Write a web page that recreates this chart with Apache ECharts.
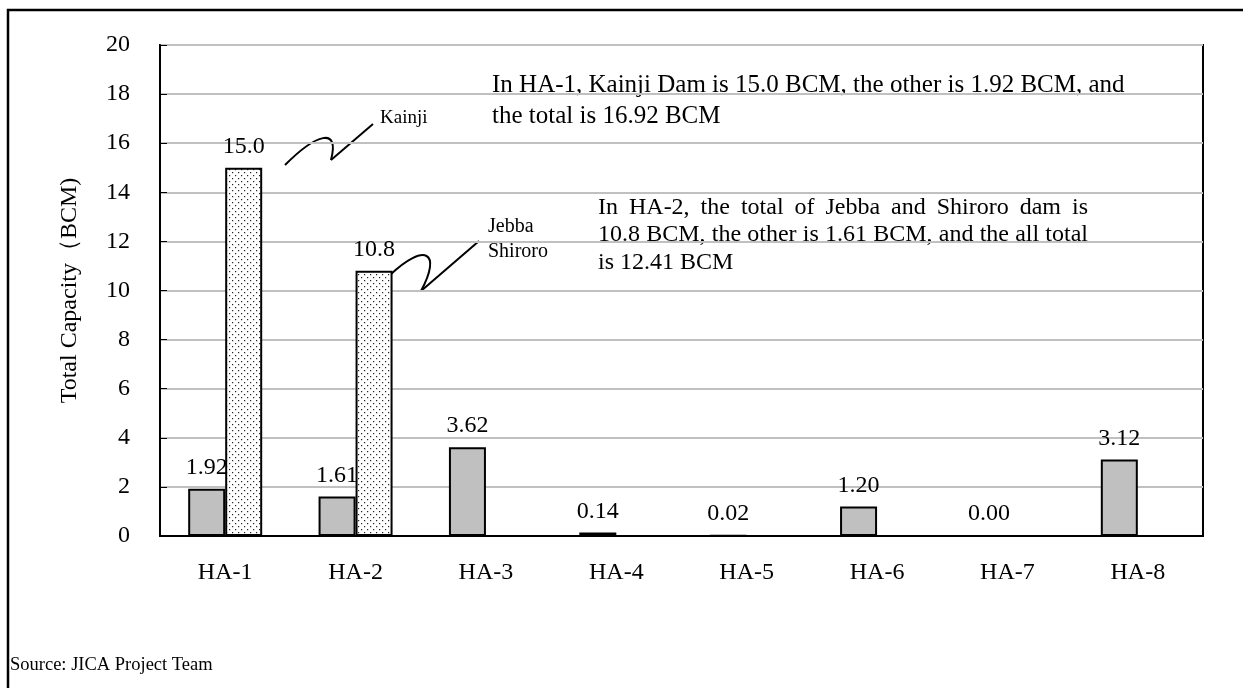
<!DOCTYPE html>
<html><head><meta charset="utf-8">
<script src="https://cdn.jsdelivr.net/npm/echarts@6/dist/echarts.min.js"></script>
<style>html,body{margin:0;padding:0;background:#fff}#c{width:1243px;height:688px}</style>
</head><body><div id="c"></div>
<script>
const categories = ['HA-1','HA-2','HA-3','HA-4','HA-5','HA-6','HA-7','HA-8'];
const otherValues = [1.92, 1.61, 3.62, 0.14, 0.02, 1.20, 0.00, 3.12];
const majorDamValues = [15.0, 10.8, null, null, null, null, null, null];
const yTicks = {min: 0, max: 20, interval: 2};
const yTitle = 'Total Capacity（BCM)';
const note1 = ['In HA-1, Kainji Dam is 15.0 BCM, the other is 1.92 BCM, and', 'the total is 16.92 BCM'];
const note2 = ['In HA-2, the total of Jebba and Shiroro dam is', '10.8 BCM, the other is 1.61 BCM, and the all total', 'is 12.41 BCM'];
const sourceText = 'Source: JICA Project Team';

const FONT = "'Liberation Serif', 'Times New Roman', serif";

// dotted pattern
const pc = document.createElement('canvas');
pc.width = 6; pc.height = 6;
const px = pc.getContext('2d');
px.fillStyle = '#fff'; px.fillRect(0,0,6,6);
px.fillStyle = '#222';
px.fillRect(1,1,1.2,1.2);
px.fillRect(4,4,1.2,1.2);

const mc = document.createElement('canvas').getContext('2d');
function justified(text, x, y, width, size, lh) {
  mc.font = size + "px 'Liberation Serif'";
  const words = text.split(' ');
  const ws = words.map(w => mc.measureText(w).width);
  const total = ws.reduce((a,b)=>a+b,0);
  const gap = Math.max(mc.measureText(' ').width, (width - total) / (words.length - 1));
  const out = [];
  let cx = x;
  words.forEach((w,i) => {
    out.push({type:'text', x: cx, y: y, style:{text:w, font: size+'px '+FONT, fill:'#000', lineHeight: lh}});
    cx += ws[i] + gap;
  });
  return out;
}

const lineStyle = {stroke:'#000', lineWidth:2, fill:null};
const graphics = [
  {type:'polyline', shape:{points:[[8,688],[8,10],[1243,10]]}, style:{stroke:'#000', lineWidth:2.5, fill:null}},
  {type:'text', x: 10, y: 656, style:{text: sourceText, font:'18.5px '+FONT, fill:'#000'}},
  {type:'text', x: 492, y: 70, style:{text: note1.join('\n'), font:'25px '+FONT, fill:'#000', lineHeight: 31}},
  {type:'text', x: 380, y: 106, style:{text:'Kainji', font:'19px '+FONT, fill:'#000', lineHeight: 25}},
  {type:'text', x: 488, y: 214, style:{text:'Jebba\nShiroro', font:'20px '+FONT, fill:'#000', lineHeight: 25}},
  {type:'bezierCurve', shape:{x1:285, y1:165, cpx1:316, cpy1:134, cpx2:340, cpy2:126, x2:331, y2:160}, style:lineStyle},
  {type:'line', shape:{x1:331, y1:160, x2:373, y2:124}, style:lineStyle},
  {type:'bezierCurve', shape:{x1:390, y1:275, cpx1:425, cpy1:242, cpx2:442, cpy2:252, x2:421, y2:291}, style:lineStyle},
  {type:'line', shape:{x1:421, y1:291, x2:479, y2:241}, style:lineStyle},
].concat(
  justified(note2[0], 598, 194, 490, 24, 28),
  justified(note2[1], 598, 221, 490, 24, 28),
  [{type:'text', x: 598, y: 249, style:{text: note2[2], font:'24px '+FONT, fill:'#000', lineHeight: 28}}]
);

const chart = echarts.init(document.getElementById('c'));
chart.setOption({
  animation: false,
  backgroundColor: '#fff',
  grid: {left: 160, right: 40, top: 45, bottom: 152, show: true, borderColor: '#000', borderWidth: 2, backgroundColor: 'transparent'},
  xAxis: {
    type: 'category', data: categories,
    axisLine: {lineStyle: {color: '#000', width: 2}},
    axisTick: {inside: true, length: 7, lineStyle: {color: '#888', width: 1}},
    axisLabel: {fontFamily: FONT, fontSize: 24, color: '#000', margin: 25}
  },
  yAxis: {
    type: 'value', min: yTicks.min, max: yTicks.max, interval: yTicks.interval,
    name: yTitle, nameLocation: 'middle', nameGap: 78,
    nameTextStyle: {fontFamily: FONT, fontSize: 24, color: '#000'},
    axisLine: {show: true, lineStyle: {color: '#000', width: 2}},
    axisTick: {show: true, inside: true, length: 7, lineStyle: {color: '#000', width: 1}},
    axisLabel: {fontFamily: FONT, fontSize: 24, color: '#000', margin: 30},
    splitLine: {lineStyle: {color: '#c0c0c0', width: 2}}
  },
  series: [
    {type: 'bar', data: otherValues, barWidth: 37, barGap: '0%',
     itemStyle: {color: '#c0c0c0', borderColor: '#000', borderWidth: 2},
     label: {show: true, position: 'top', distance: 9, fontFamily: FONT, fontSize: 24, color: '#000',
             formatter: p => p.value.toFixed(2)}},
    {type: 'bar', data: majorDamValues, barWidth: 37, barGap: '0%',
     itemStyle: {color: {image: pc, repeat: 'repeat'}, borderColor: '#000', borderWidth: 2},
     label: {show: true, position: 'top', distance: 9, fontFamily: FONT, fontSize: 24, color: '#000',
             formatter: p => (p.value == null ? '' : p.value.toFixed(1))}}
  ],
  graphic: graphics
});
</script></body></html>
